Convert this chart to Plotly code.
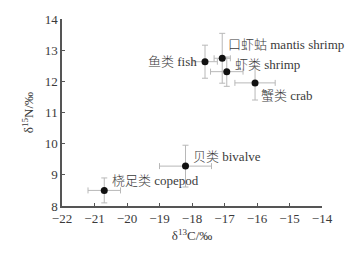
import plotly.graph_objects as go

labels = ["鱼类 fish", "口虾蛄 mantis shrimp", "虾类 shrimp", "蟹类 crab", "贝类 bivalve", "桡足类 copepod"]
d13C = [-17.6, -17.07, -16.93, -16.06, -18.2, -20.7]
d15N = [12.63, 12.74, 12.31, 11.95, 9.28, 8.5]
sd13C = [0.38, 0.25, 0.5, 0.62, 0.8, 0.5]
sd15N = [0.53, 0.8, 0.47, 0.55, 0.67, 0.4]

# label placement (styles): anchor, xshift, yshift in px
label_pos = [("right", -6, 0), ("left", 4, 14), ("left", 6, 7), ("left", 4, -13), ("left", 5, 10), ("left", 6, 10)]

FONT = "'Liberation Serif', 'Times New Roman', 'Noto Sans CJK SC', serif"
TXT = "#3a3a3a"

fig = go.Figure()
fig.add_trace(go.Scatter(
    x=d13C, y=d15N, mode="markers",
    marker=dict(color="#111111", size=7),
    error_x=dict(type="data", array=sd13C, color="#b8b8b8", thickness=1, width=3),
    error_y=dict(type="data", array=sd15N, color="#b8b8b8", thickness=1, width=3),
    showlegend=False, hoverinfo="skip",
))

for lab, x, y, (anc, xs, ys) in zip(labels, d13C, d15N, label_pos):
    fig.add_annotation(x=x, y=y, text=lab, showarrow=False, xanchor=anc, yanchor="middle",
                       xshift=xs, yshift=ys, font=dict(family=FONT, size=13, color=TXT, weight=300))

axis_common = dict(showgrid=False, zeroline=False, showline=True, linecolor="#555555", linewidth=1.5,
                   ticks="inside", ticklen=3, tickcolor="#555555", tickwidth=1,
                   tickfont=dict(family=FONT, size=13, color=TXT), mirror=False)

fig.update_layout(
    width=362, height=254,
    margin=dict(l=62, r=40, t=19, b=48),
    paper_bgcolor="white", plot_bgcolor="white",
    xaxis=dict(range=[-22, -14], dtick=1, tick0=-22,
               title=dict(text="δ<sup>13</sup>C/‰", font=dict(family=FONT, size=13, color=TXT), standoff=6),
               **axis_common),
    yaxis=dict(range=[8, 14], dtick=1, tick0=8,
               title=dict(text="δ<sup>15</sup>N/‰", font=dict(family=FONT, size=13, color=TXT), standoff=8),
               **axis_common),
)

fig.write_html("out.html")
